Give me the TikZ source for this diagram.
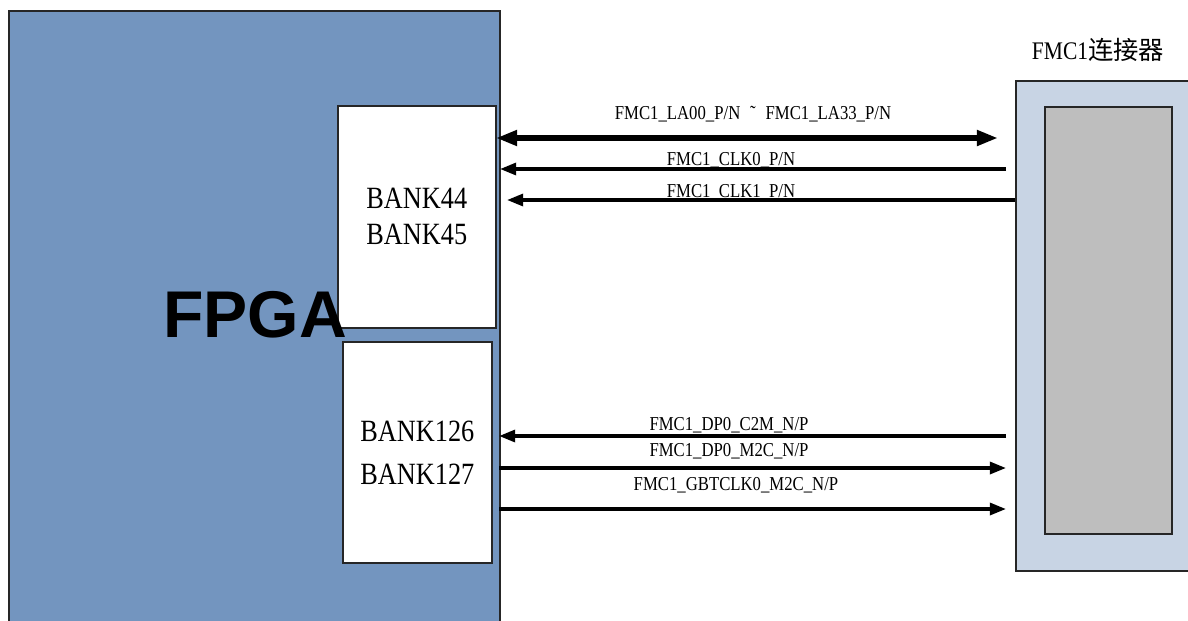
\documentclass[tikz,border=0pt]{standalone}
\usepackage{fontspec}
\setmainfont{Liberation Serif}[FakeStretch=0.85]
\newfontfamily\cjk{Noto Sans CJK SC}
\newfontfamily\fpgafont{Liberation Sans}
\usetikzlibrary{arrows.meta, positioning}
\definecolor{fpgablue}{RGB}{115,149,191}
\definecolor{fmcblue}{RGB}{200,212,228}
\definecolor{fmcgray}{RGB}{190,190,190}
\tikzset{
  box/.style={draw=black!85, line width=1.2pt, inner sep=0pt},
  bankbox/.style={box, fill=white, align=center, font=\fontsize{22}{25.6}\selectfont},
  sig/.style={line width=2.4pt, -{Triangle[length=11.5pt,width=8.5pt]}},
  bus/.style={line width=4pt, {Triangle[length=15pt,width=10.5pt]}-{Triangle[length=15pt,width=10.5pt]}},
  lbl/.style={font=\fontsize{14}{16}\selectfont, inner sep=0pt, anchor=base},
}

\begin{document}
\begin{tikzpicture}[x=0.025cm, y=-0.025cm]
\def\u{0.025cm}
\useasboundingbox (0,0) rectangle (1188,620);
\clip (0,0) rectangle (1188,620);

\node[box, fill=fpgablue, minimum width=491*\u, minimum height=640*\u, anchor=north west] (fpga) at (8,10) {};
\node[bankbox, minimum width=158*\u, minimum height=222*\u, anchor=north west] (bankA) at (337,105) {BANK44\\BANK45};
\node[bankbox, minimum width=149*\u, minimum height=221*\u, anchor=north west] (bankB) at (342,341) {BANK126\\[5pt]BANK127};
\node[anchor=base, inner sep=0pt, font=\fpgafont\bfseries\fontsize{47}{50}\selectfont] (fpgatxt) at (255,337) {FPGA};

\node[box, fill=fmcblue, minimum width=200*\u, minimum height=490*\u, anchor=north west] (fmc) at (1015,80) {};
\node[box, fill=fmcgray, minimum width=127*\u, minimum height=427*\u, anchor=north west] (fmcin) at (1044,106) {};
\node[inner sep=0pt, font=\fontsize{18}{20}\selectfont] (fmctitle) at (1098,50) {FMC1{\cjk 连接器}};

\coordinate (la-l) at (496,138);
\coordinate (la-r) at (998,138);
\coordinate (clk0-l) at (500,169);
\coordinate (clk0-r) at (1006,169);
\coordinate (clk1-l) at (507,200);
\coordinate (c2m-l) at (499,436);
\coordinate (c2m-r) at (1006,436);
\coordinate (m2c-l) at (499,468);
\coordinate (m2c-r) at (1006,468);
\coordinate (gbt-l) at (499,509);
\coordinate (gbt-r) at (1006,509);

\draw[bus] (la-l) -- (la-r);
\draw[sig] (clk0-r) -- (clk0-l);
\draw[sig] (fmc.west |- clk1-l) -- (clk1-l);
\draw[sig] (c2m-r) -- (c2m-l);
\draw[sig] (m2c-l) -- (m2c-r);
\draw[sig] (gbt-l) -- (gbt-r);

\node[lbl] (la-txt) at (753,119) {FMC1\_LA00\_P/N\enspace˜\enspace FMC1\_LA33\_P/N};
\node[lbl] (clk0-txt) at (731,165) {FMC1\_CLK0\_P/N};
\node[lbl] (clk1-txt) at (731,197) {FMC1\_CLK1\_P/N};
\node[lbl] (c2m-txt) at (729,430) {FMC1\_DP0\_C2M\_N/P};
\node[lbl] (m2c-txt) at (729,456) {FMC1\_DP0\_M2C\_N/P};
\node[lbl] (gbt-txt) at (736,490.5) {FMC1\_GBTCLK0\_M2C\_N/P};
\end{tikzpicture}
\end{document}
